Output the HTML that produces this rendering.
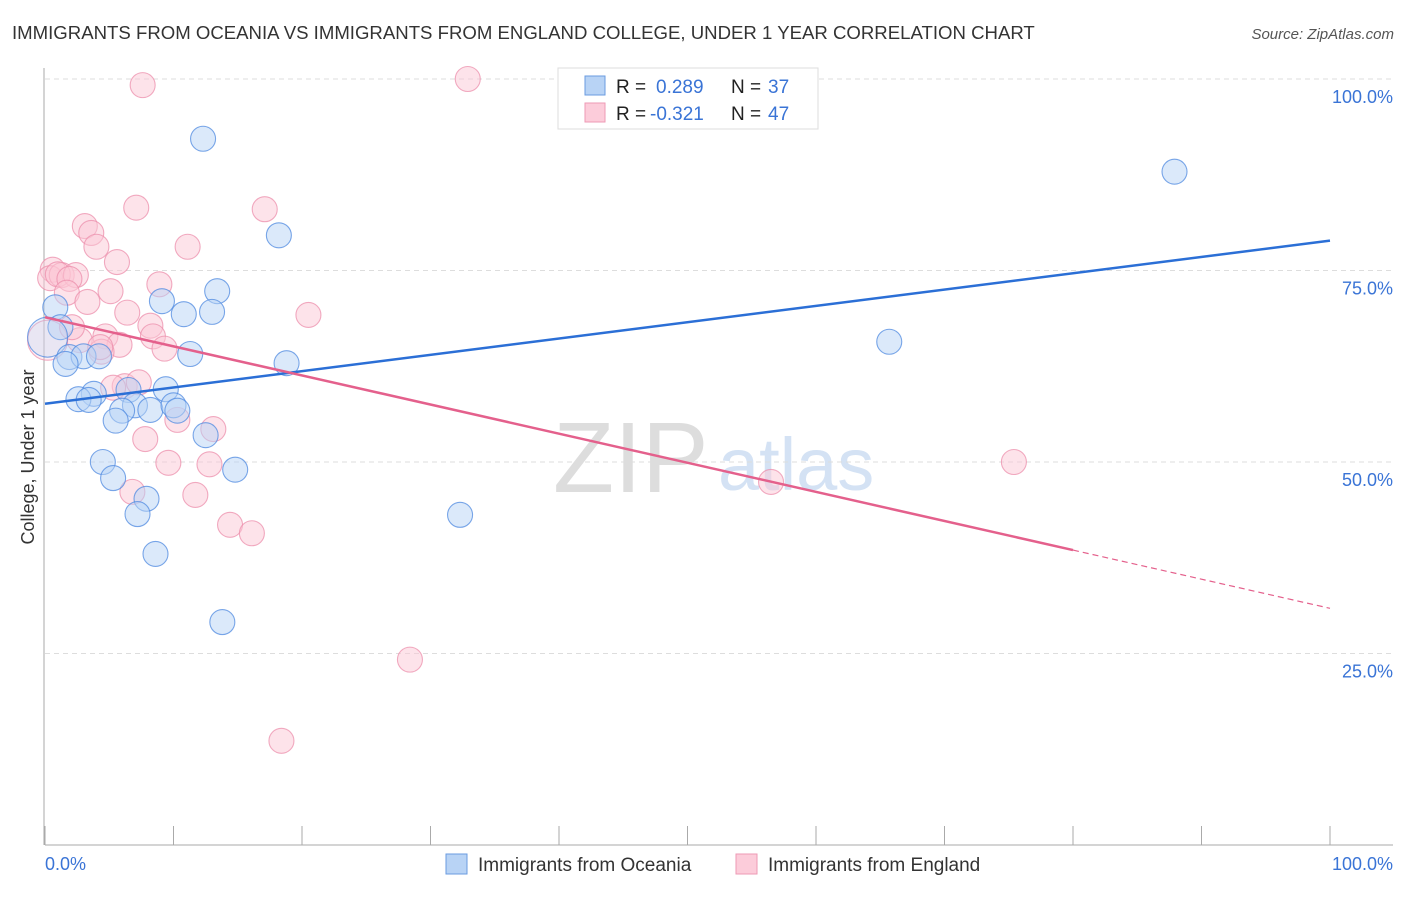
<!DOCTYPE html>
<html><head><meta charset="utf-8"><style>
body{margin:0;background:#fff;font-family:"Liberation Sans",sans-serif;}
svg text{font-family:"Liberation Sans",sans-serif;}
</style></head><body>
<svg id="chart" width="1406" height="892">
<text x="12" y="39" font-size="18.6" fill="#333">IMMIGRANTS FROM OCEANIA VS IMMIGRANTS FROM ENGLAND COLLEGE, UNDER 1 YEAR CORRELATION CHART</text>
<text x="1394" y="39" font-size="15" fill="#555" text-anchor="end" font-style="italic">Source: ZipAtlas.com</text>
<g>
<text x="553" y="492" font-size="100" fill="#ddd" font-family="Liberation Serif,serif">ZIP</text>
<text x="718" y="490" font-size="74" fill="#d4e2f4">atlas</text>
</g>
<g id="grid"></g><g id="axes"></g><g id="marks"></g><g id="lines"></g>
<text transform="translate(34,457) rotate(-90)" font-size="18" fill="#333" text-anchor="middle">College, Under 1 year</text>
<text x="45" y="870" font-size="18" fill="#3a74d6">0.0%</text>
<text x="1393" y="870" font-size="18" fill="#3a74d6" text-anchor="end">100.0%</text>
<g>
<rect x="558" y="68" width="260" height="61" fill="#fff" stroke="#ddd"/>
<rect x="585" y="76" width="20" height="19" fill="#b8d3f5" stroke="#6a9be0"/>
<rect x="585" y="103" width="20" height="19" fill="#fcccda" stroke="#ee9ab4"/>
<text x="616" y="93" font-size="19" fill="#222">R = <tspan x="656" fill="#3a74d6">0.289</tspan><tspan x="731" fill="#222">N = </tspan><tspan x="768" fill="#3a74d6">37</tspan></text>
<text x="616" y="120" font-size="19" fill="#222">R = <tspan x="650" fill="#3a74d6">-0.321</tspan><tspan x="731" fill="#222">N = </tspan><tspan x="768" fill="#3a74d6">47</tspan></text>
</g>
<g>
<rect x="446" y="854" width="21" height="20" fill="#b8d3f5" stroke="#6a9be0"/>
<text x="478" y="871" font-size="19" fill="#333">Immigrants from Oceania</text>
<rect x="736" y="854" width="21" height="20" fill="#fcccda" stroke="#ee9ab4"/>
<text x="768" y="871" font-size="19" fill="#333">Immigrants from England</text>
</g>
</svg>
<script>
const yTicks=[25,50,75,100];
const yTickLabels=["25.0%","50.0%","75.0%","100.0%"];
const xTicks=[0,10,20,30,40,50,60,70,80,90,100];
const oceaniaX=[12.3,87.9,18.2,9.1,13.4,10.8,13.0,0.8,1.2,0.2,1.9,3.0,4.2,1.6,11.3,18.8,65.7,3.8,2.6,3.4,6.5,9.4,7.0,6.0,8.2,10.0,10.3,5.5,12.5,4.5,14.8,5.3,7.9,7.2,32.3,8.6,13.8];
const oceaniaY=[92.2,87.9,79.6,71.0,72.3,69.3,69.6,70.2,67.6,66.3,63.7,63.8,63.8,62.8,64.1,62.9,65.7,58.9,58.2,58.1,59.4,59.5,57.4,56.7,56.8,57.4,56.7,55.4,53.5,50.0,49.0,47.9,45.2,43.2,43.1,38.0,29.1];
const englandX=[7.6,32.9,7.1,17.1,3.1,3.6,4.0,11.1,5.6,0.6,0.4,1.3,1.0,2.4,1.9,1.7,5.1,3.3,8.9,20.5,6.4,8.2,8.4,2.7,4.7,5.8,9.3,4.4,0.2,6.2,7.3,5.3,10.3,13.1,7.8,9.6,12.8,75.4,56.5,6.8,11.7,14.4,16.1,28.4,18.4,2.1,4.3];
const englandY=[99.2,100,83.2,83.0,80.8,79.9,78.1,78.1,76.1,75.1,74.0,74.4,74.5,74.4,73.9,72.1,72.3,70.9,73.2,69.2,69.5,67.8,66.4,65.9,66.4,65.3,64.8,64.4,65.9,59.9,60.4,59.7,55.5,54.3,53.0,49.9,49.7,50.0,47.4,46.1,45.7,41.8,40.7,24.2,13.6,67.6,65.0];
const oceaniaTrend=[57.6,78.9];
const englandTrend=[68.9,30.9];
const englandSolidEnd=80;

const NS="http://www.w3.org/2000/svg";
const X0=45,X1=1330,Y0=845,Y1=79;
const xs=v=>X0+(X1-X0)*v/100;
const ys=v=>Y0-(Y0-Y1)*v/100;
function mk(tag,attrs,parent){const e=document.createElementNS(NS,tag);for(const k in attrs)e.setAttribute(k,attrs[k]);document.getElementById(parent).appendChild(e);return e;}
yTicks.forEach((t,i)=>{
  const g=mk('line',{x1:X0,x2:1393,y1:ys(t),y2:ys(t),stroke:'#ddd','stroke-dasharray':'5,4'},'grid');
  
  
  const l=mk('text',{x:1393,y:ys(t)+24,'font-size':18,fill:'#3a74d6','text-anchor':'end'},'grid');
  l.textContent=yTickLabels[i];
  
  
});
const ax=mk('line',{x1:X0-1,x2:X0-1,y1:68,y2:Y0,stroke:'#aaa'},'axes');


const bx=mk('line',{x1:X0,x2:1393,y1:Y0,y2:Y0,stroke:'#aaa'},'axes');


xTicks.forEach(t=>{
  const e=mk('line',{x1:xs(t),x2:xs(t),y1:826,y2:Y0,stroke:'#aaa'},'axes');
  
  
});
function pts(X,Y,fill,stroke,name){
  X.forEach((x,i)=>{
    const big=(x<0.3);
    const c=mk('circle',{cx:xs(x),cy:ys(Y[i]),r:big?20:12.5,fill:fill,'fill-opacity':big?0.3:0.5,stroke:stroke,'stroke-width':1.1,'stroke-opacity':0.75},'marks');
    
    
  });
}
pts(englandX,englandY,'#fbc8d6','#ec8fac','england-point');
pts(oceaniaX,oceaniaY,'#b8d3f5','#4f8ae0','oceania-point');
const bl=mk('line',{x1:xs(0),y1:ys(oceaniaTrend[0]),x2:xs(100),y2:ys(oceaniaTrend[1]),stroke:'#2b6fd6','stroke-width':2.5},'lines');


const pe=englandTrend[0]+(englandTrend[1]-englandTrend[0])*englandSolidEnd/100;
const pl=mk('line',{x1:xs(0),y1:ys(englandTrend[0]),x2:xs(englandSolidEnd),y2:ys(pe),stroke:'#e4608c','stroke-width':2.5},'lines');


const pd=mk('line',{x1:xs(englandSolidEnd),y1:ys(pe),x2:xs(100),y2:ys(englandTrend[1]),stroke:'#e4608c','stroke-width':1.2,'stroke-dasharray':'6,4'},'lines');


</script>
</body></html>
